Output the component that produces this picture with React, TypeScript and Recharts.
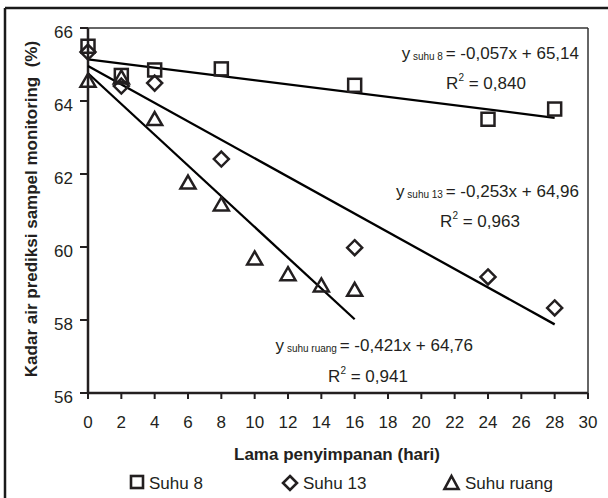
import React from "react";
import { Scatter, ScatterChart, XAxis, YAxis } from "recharts";

const font = "'Liberation Sans', Arial, sans-serif";
const ink = "#231f20";

const days8 = [0, 2, 4, 8, 16, 24, 28];
const suhu8 = [65.5, 64.7, 64.85, 64.88, 64.43, 63.5, 63.78];

const days13 = [0, 2, 4, 8, 16, 24, 28];
const suhu13 = [65.34, 64.41, 64.49, 62.41, 59.98, 59.18, 58.33];

const daysRuang = [0, 2, 4, 6, 8, 10, 12, 14, 16];
const suhuRuang = [64.57, 64.66, 63.52, 61.78, 61.18, 59.7, 59.27, 58.96, 58.84];

// regression lines, start and end as drawn
const trendX8 = [0, 28];
const trendY8 = [65.14, 63.54];
const trendX13 = [0, 28];
const trendY13 = [64.96, 57.88];
const trendXRuang = [0, 16];
const trendYRuang = [64.76, 58.02];

const xTicks = [0, 2, 4, 6, 8, 10, 12, 14, 16, 18, 20, 22, 24, 26, 28, 30];
const yTicks = [56, 58, 60, 62, 64, 66];

const toPoints = (xs: number[], ys: number[]) => xs.map((x, i) => ({ x, y: ys[i] }));

const SquareMark = ({ cx, cy }: any) => (
  <rect x={cx - 6.5} y={cy - 6.5} width={13} height={13} fill="none" stroke={ink} strokeWidth={2.5} />
);

const DiamondMark = ({ cx, cy }: any) => (
  <path d={`M${cx},${cy - 7.5}L${cx + 7.5},${cy}L${cx},${cy + 7.5}L${cx - 7.5},${cy}Z`} fill="none" stroke={ink} strokeWidth={2.5} />
);

const TriangleMark = ({ cx, cy }: any) => (
  <path d={`M${cx},${cy - 6.5}L${cx + 7.5},${cy + 6.5}L${cx - 7.5},${cy + 6.5}Z`} fill="none" stroke={ink} strokeWidth={2.5} />
);

const NoMark = () => <g />;

const XTick = ({ x, payload }: any) => (
  <text x={x} y={428} textAnchor="middle" fontSize={17} fontFamily={font} fill={ink}>
    {payload.value}
  </text>
);

const YTick = ({ y, payload }: any) => (
  <text x={73} y={y + 10} textAnchor="end" fontSize={17} fontFamily={font} fill={ink}>
    {payload.value}
  </text>
);

function Equation({ x, y, sub, rest }: { x: number; y: number; sub: string; rest: string }) {
  return (
    <text x={x} y={y} textAnchor="end" fontSize={17} fontFamily={font} fill={ink}>
      y<tspan fontSize={10} dy={1}>{"\u00a0" + sub + "\u00a0"}</tspan>
      <tspan dy={-1}>{rest}</tspan>
    </text>
  );
}

function RSquared({ x, y, value }: { x: number; y: number; value: string }) {
  return (
    <text x={x} y={y} textAnchor="middle" fontSize={17} fontFamily={font} fill={ink}>
      R<tspan fontSize={10} dy={-8}>2</tspan>
      <tspan dy={8}>{" = " + value}</tspan>
    </text>
  );
}

export default function App() {
  const axisLine = { stroke: ink, strokeWidth: 2.5 };
  return (
    <div style={{ position: "relative", width: 608, height: 498, background: "#fff" }}>
      <style>{"body{margin:0}"}</style>
      <ScatterChart width={608} height={498} margin={{ top: 28, right: 20, left: 0, bottom: 65 }}>
        <XAxis
          type="number"
          dataKey="x"
          domain={[0, 30]}
          ticks={xTicks}
          interval={0}
          height={40}
          axisLine={axisLine}
          tickLine={{ stroke: ink, strokeWidth: 2 }}
          tickSize={6}
          tick={<XTick />}
        />
        <YAxis
          type="number"
          dataKey="y"
          domain={[56, 66]}
          ticks={yTicks}
          interval={0}
          width={88}
          axisLine={axisLine}
          tickLine={{ stroke: ink, strokeWidth: 2 }}
          tickSize={8}
          tick={<YTick />}
        />
        <Scatter data={toPoints(trendX8, trendY8)} line={{ stroke: "#000", strokeWidth: 2.3 }} shape={NoMark} isAnimationActive={false} />
        <Scatter data={toPoints(trendX13, trendY13)} line={{ stroke: "#000", strokeWidth: 2.3 }} shape={NoMark} isAnimationActive={false} />
        <Scatter data={toPoints(trendXRuang, trendYRuang)} line={{ stroke: "#000", strokeWidth: 2.3 }} shape={NoMark} isAnimationActive={false} />
        <Scatter name="Suhu 8" data={toPoints(days8, suhu8)} shape={SquareMark} isAnimationActive={false} />
        <Scatter name="Suhu 13" data={toPoints(days13, suhu13)} shape={DiamondMark} isAnimationActive={false} />
        <Scatter name="Suhu ruang" data={toPoints(daysRuang, suhuRuang)} shape={TriangleMark} isAnimationActive={false} />
      </ScatterChart>

      <svg width={608} height={498} style={{ position: "absolute", left: 0, top: 0, pointerEvents: "none" }}>
        {/* outer figure frame (cut at right and bottom) */}
        <line x1={5} y1={8} x2={608} y2={8} stroke="#1a1a1a" strokeWidth={2.5} />
        <line x1={5} y1={8} x2={5} y2={498} stroke="#1a1a1a" strokeWidth={2.5} />
        {/* plot box top and right */}
        <line x1={88} y1={28} x2={588} y2={28} stroke="#333" strokeWidth={1.5} />
        <line x1={588} y1={28} x2={588} y2={393} stroke="#333" strokeWidth={1.5} />

        <Equation x={579} y={59} sub="suhu 8" rest="= -0,057x + 65,14" />
        <RSquared x={486} y={89} value="0,840" />
        <Equation x={579} y={197} sub="suhu 13" rest="= -0,253x + 64,96" />
        <RSquared x={480} y={227} value="0,963" />
        <Equation x={473} y={351} sub="suhu ruang" rest="= -0,421x + 64,76" />
        <RSquared x={368} y={382} value="0,941" />

        <text
          transform="translate(37,209) rotate(-90)"
          textAnchor="middle"
          fontSize={17}
          fontWeight="bold"
          fontFamily={font}
          fill={ink}
        >
          {"Kadar air prediksi sampel monitoring\u00a0 (%)"}
        </text>
        <text x={337} y={460} textAnchor="middle" fontSize={17} fontWeight="bold" fontFamily={font} fill={ink}>
          Lama penyimpanan (hari)
        </text>

        <rect x={131} y={476} width={12} height={12} fill="none" stroke={ink} strokeWidth={2.6} />
        <text x={149} y={489} fontSize={17} fontFamily={font} fill={ink}>Suhu 8</text>
        <path d="M290,476L297,483L290,490L283,483Z" fill="none" stroke={ink} strokeWidth={2.6} />
        <text x={303} y={489} fontSize={17} fontFamily={font} fill={ink}>Suhu 13</text>
        <path d="M451.5,476L458.5,489L444.5,489Z" fill="none" stroke={ink} strokeWidth={2.6} />
        <text x={465} y={489} fontSize={17} fontFamily={font} fill={ink}>Suhu ruang</text>
      </svg>
    </div>
  );
}
